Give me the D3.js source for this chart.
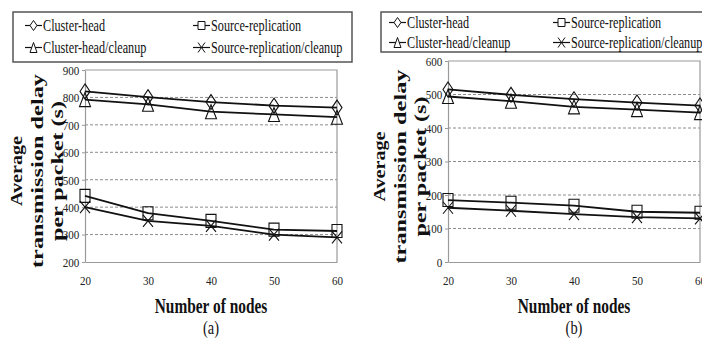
<!DOCTYPE html>
<html>
<head>
<meta charset="utf-8">
<script src="https://cdn.jsdelivr.net/npm/d3@7"></script>
<style>
  html, body { margin: 0; padding: 0; background: #fff; }
  svg { display: block; }
  svg text { font-family: "Liberation Serif", "Times New Roman", serif; }
</style>
</head>
<body>
<svg id="chart" width="702" height="340"></svg>
<script>
// ── Data ────────────────────────────────────────────────────────────────
const nodeCounts = [20, 30, 40, 50, 60];
const seriesNames = ["Cluster-head", "Source-replication", "Cluster-head/cleanup", "Source-replication/cleanup"];
const seriesMarkers = ["diamond", "square", "triangle", "cross"];

// panel (a)
const clusterHeadA = [822, 801, 783, 770, 763];
const sourceReplA = [441, 378, 350, 318, 313];
const clusterHeadCleanA = [792, 775, 748, 738, 728];
const sourceReplCleanA = [400, 350, 332, 300, 290];
const yTicksA = [200, 300, 400, 500, 600, 700, 800, 900];

// panel (b)
const clusterHeadB = [515, 499, 486, 476, 467];
const sourceReplB = [185, 177, 168, 150, 147];
const clusterHeadCleanB = [494, 480, 463, 455, 446];
const sourceReplCleanB = [162, 153, 143, 134, 130];
const yTicksB = [0, 100, 200, 300, 400, 500, 600];

const yTitleLines = ["Average", "transmission delay", "per packet (s)"];
const xTitle = "Number of nodes";

// ── Layout ──────────────────────────────────────────────────────────────
const panels = [
  {
    caption: "(a)",
    series: [clusterHeadA, sourceReplA, clusterHeadCleanA, sourceReplCleanA],
    yTicks: yTicksA,
    plot: { x0: 85, x1: 337, y0: 70, y1: 262 },
    legend: { x: 13, y: 12, w: 339, h: 50, rows: [31, 53], cols: [25, 193] },
  },
  {
    caption: "(b)",
    series: [clusterHeadB, sourceReplB, clusterHeadCleanB, sourceReplCleanB],
    yTicks: yTicksB,
    plot: { x0: 448, x1: 700, y0: 61, y1: 262 },
    legend: { x: 381, y: 12, w: 322, h: 40, rows: [28, 48], cols: [389, 553] },
  },
];

const SQUEEZE = 0.74; // glyphs in the picture are narrowed
const TITLE_LEN = [70, 194, 140];

const svg = d3.select("#chart");

function markerPath(type, w, h) {
  const p = d3.path();
  if (type === "diamond") {
    p.moveTo(0, -h / 2); p.lineTo(w / 2, 0); p.lineTo(0, h / 2); p.lineTo(-w / 2, 0); p.closePath();
  } else if (type === "square") {
    p.rect(-w / 2, -h / 2, w, h);
  } else if (type === "triangle") {
    p.moveTo(0, -h / 2); p.lineTo(w / 2, h / 2); p.lineTo(-w / 2, h / 2); p.closePath();
  } else {
    p.moveTo(-w / 2, -h / 2); p.lineTo(w / 2, h / 2);
    p.moveTo(w / 2, -h / 2); p.lineTo(-w / 2, h / 2);
  }
  return p.toString();
}

function drawPanel(cfg) {
  const { plot, legend } = cfg;
  const x = d3.scaleLinear().domain([20, 60]).range([plot.x0, plot.x1]);
  const y = d3.scaleLinear().domain(d3.extent(cfg.yTicks)).range([plot.y1, plot.y0]);
  const g = svg.append("g");

  // grid (dashed) between axis and top border
  g.append("g").selectAll("line")
    .data(cfg.yTicks.slice(1, -1))
    .join("line")
    .attr("x1", plot.x0).attr("x2", plot.x1)
    .attr("y1", d => y(d)).attr("y2", d => y(d))
    .attr("stroke", "#8c8c8c").attr("stroke-width", 1)
    .attr("stroke-dasharray", "3,2");

  // plot border top/right
  g.append("path")
    .attr("d", `M${plot.x0},${plot.y0}H${plot.x1}V${plot.y1}`)
    .attr("fill", "none").attr("stroke", "#9a9a9a").attr("stroke-width", 1.2);

  // axes
  const yAxis = g.append("g")
    .attr("transform", `translate(${plot.x0},0)`)
    .call(d3.axisLeft(y).tickValues(cfg.yTicks).tickSizeInner(3).tickSizeOuter(0).tickPadding(4));
  const xAxis = g.append("g")
    .attr("transform", `translate(0,${plot.y1})`)
    .call(d3.axisBottom(x).tickValues(nodeCounts).tickSize(0).tickPadding(13).tickFormat(d3.format("d")));
  [yAxis, xAxis].forEach(ax => {
    ax.attr("font-family", "Liberation Serif");
    ax.select(".domain").attr("stroke", "#9a9a9a").attr("stroke-width", 1.2);
    ax.selectAll(".tick line").attr("stroke", "#9a9a9a");
    ax.selectAll("text")
      .attr("font-family", "Liberation Serif")
      .attr("font-size", 13.5)
      .attr("fill", "#222")
      .attr("transform", "scale(0.82,1)");
  });

  // series lines + markers
  const line = d3.line().x((d, i) => x(nodeCounts[i])).y(d => y(d));
  cfg.series.forEach(vals => {
    g.append("path")
      .datum(vals)
      .attr("d", line)
      .attr("fill", "none").attr("stroke", "#111").attr("stroke-width", 1.8);
  });
  cfg.series.forEach((vals, si) => {
    const type = seriesMarkers[si];
    const size = { diamond: [10, 15], square: [10, 13], triangle: [11, 14], cross: [10, 12] }[type];
    g.append("g").selectAll("path")
      .data(vals)
      .join("path")
      .attr("transform", (d, i) => `translate(${x(nodeCounts[i])},${y(d)})`)
      .attr("d", markerPath(type, size[0], size[1]))
      .attr("fill", "none").attr("stroke", "#111").attr("stroke-width", 1.1);
  });

  // y title (three rotated lines)
  const cy = (plot.y0 + plot.y1) / 2 + 5;
  const offsets = [-63, -42, -22];
  yTitleLines.forEach((t, i) => {
    g.append("text")
      .attr("transform", `translate(${plot.x0 + offsets[i]},${cy}) rotate(-90) scale(1,${SQUEEZE})`)
      .attr("text-anchor", "middle")
      .attr("font-family", "Liberation Serif")
      .attr("font-size", 24).attr("font-weight", "bold")
      .attr("textLength", TITLE_LEN[i]).attr("lengthAdjust", "spacingAndGlyphs")
      .attr("fill", "#111")
      .text(t);
  });

  // x title + caption
  const cx = (plot.x0 + plot.x1) / 2;
  g.append("text")
    .attr("transform", `translate(${cx},313) scale(0.7,1)`)
    .attr("text-anchor", "middle")
    .attr("font-family", "Liberation Serif")
    .attr("font-size", 22).attr("font-weight", "bold").attr("fill", "#111")
    .text(xTitle);
  g.append("text")
    .attr("transform", `translate(${cx},334) scale(0.8,1)`)
    .attr("text-anchor", "middle")
    .attr("font-family", "Liberation Serif")
    .attr("font-size", 18).attr("fill", "#111")
    .text(cfg.caption);

  // legend
  const lg = svg.append("g");
  lg.append("rect")
    .attr("x", legend.x).attr("y", legend.y)
    .attr("width", legend.w).attr("height", legend.h)
    .attr("fill", "#fff").attr("stroke", "#555").attr("stroke-width", 1.5);
  seriesNames.forEach((name, si) => {
    const lx = legend.cols[si % 2];
    const ly = legend.rows[Math.floor(si / 2)];
    const my = ly - 5.5;
    const item = lg.append("g");
    item.append("line")
      .attr("x1", lx).attr("x2", lx + 17).attr("y1", my).attr("y2", my)
      .attr("stroke", "#111").attr("stroke-width", 1.2);
    const type = seriesMarkers[si];
    item.append("path")
      .attr("transform", `translate(${lx + 8.5},${my})`)
      .attr("d", markerPath(type, 7, type === "square" ? 8 : 10))
      .attr("fill", "#fff").attr("stroke", "#111").attr("stroke-width", 1);
    item.append("text")
      .attr("transform", `translate(${lx + 18},${ly}) scale(${SQUEEZE},1)`)
      .attr("font-family", "Liberation Serif")
      .attr("font-size", 16.5).attr("fill", "#111")
      .text(name);
  });
}

panels.forEach(drawPanel);
</script>
</body>
</html>
